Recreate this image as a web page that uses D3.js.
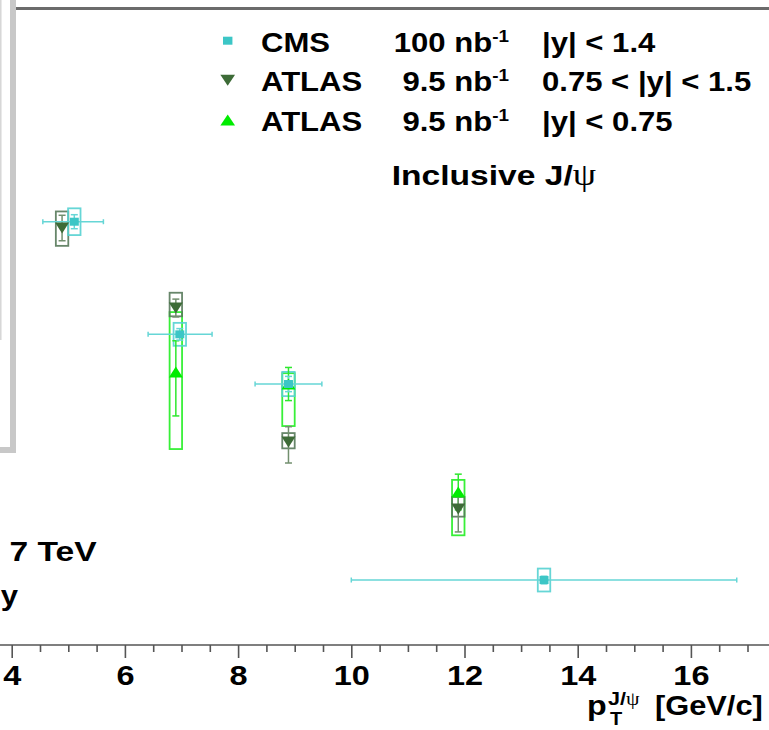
<!DOCTYPE html>
<html>
<head>
<meta charset="utf-8">
<script src="https://cdn.jsdelivr.net/npm/d3@7"></script>
<style>
  html, body { margin: 0; padding: 0; background: #fff; }
  svg { display: block; }
  text { font-family: "Liberation Sans", Arial, Helvetica, sans-serif; font-weight: bold; fill: #000; }
</style>
</head>
<body>
<svg id="chart" width="769" height="730"></svg>
<script>
// ---- data: inclusive J/psi, pT in GeV/c, values in plot units ----
const xTickValues = [4, 6, 8, 10, 12, 14, 16];

// CMS, 100 nb^-1, |y| < 1.4
const cmsPt     = [5.106, 6.97, 8.89, 13.405];
const cmsPtLo   = [4.55, 6.41, 8.30, 10.00];
const cmsPtHi   = [5.62, 7.54, 9.48, 16.81];
const cmsVal    = [6.645, 4.877, 4.097, 1.020];
const cmsStat   = [0.11, 0.09, 0.12, 0.06];
const cmsSys    = [0.21, 0.18, 0.19, 0.18];

// ATLAS, 9.5 nb^-1, 0.75 < |y| < 1.5
const atlasFwdPt     = [4.89, 6.90, 8.89, 11.89];
const atlasFwdVal    = [6.546, 5.290, 3.187, 2.135];
const atlasFwdStatUp = [0.20, 0.14, 0.24, 0.19];
const atlasFwdStatDn = [0.20, 0.14, 0.33, 0.36];
const atlasFwdSysUp  = [0.26, 0.24, 0.14, 0.19];
const atlasFwdSysDn  = [0.28, 0.13, 0.10, 0.12];

// ATLAS, 9.5 nb^-1, |y| < 0.75
const atlasCenPt     = [6.90, 8.89, 11.89];
const atlasCenVal    = [4.286, 4.097, 2.402];
const atlasCenStatUp = [0.49, 0.26, 0.28];
const atlasCenStatDn = [0.69, 0.26, 0.28];
const atlasCenSysUp  = [0.94, 0.17, 0.19];
const atlasCenSysDn  = [1.21, 0.66, 0.68];

// legend rows
const legendNames = ["CMS", "ATLAS", "ATLAS"];
const legendLumi  = ["100 nb", "9.5 nb", "9.5 nb"];
const legendRap   = ["|y| < 1.4", "0.75 < |y| < 1.5", "|y| < 0.75"];

// ---- layout ----
const W = 769, H = 730;
const axisY = 645;
const SX = 1.11;            // horizontal stretch of the lettering
const boxHalf = 0.11;       // half width of systematic boxes, GeV/c

const svg = d3.select("#chart");
const x = d3.scaleLinear().domain([4, 16]).range([11.7, 690.9]);
const y = d3.scaleLinear().domain([0, 10]).range([axisY, 8]);

const colors = {
  cms:  { marker: "#3cc6c6", line: "#66d6d6", box: "#55d2d2" },
  fwd:  { marker: "#3d6b37", line: "#728f6e", box: "#56795a" },
  cen:  { marker: "#00ec00", line: "#2ee82e", box: "#22ee22" }
};

function txt(parent, px, py, str, opts = {}) {
  const t = parent.append("text")
    .attr("transform", `translate(${px},${py}) scale(${opts.sx || SX},1)`)
    .attr("font-size", opts.size || 28)
    .attr("text-anchor", opts.anchor || "start");
  if (str !== null) t.text(str);
  return t;
}

// ---- frame pieces ----
svg.append("line").attr("x1", 16).attr("x2", W).attr("y1", 8.5).attr("y2", 8.5)
  .attr("stroke", "#6b6b6b").attr("stroke-width", 3);
svg.append("line").attr("x1", 0.8).attr("x2", 0.8).attr("y1", 0).attr("y2", 340)
  .attr("stroke", "#d6d6d6").attr("stroke-width", 1.5);
svg.append("rect").attr("x", 10).attr("y", 0).attr("width", 6).attr("height", 453).attr("fill", "#c8c8c8");
svg.append("rect").attr("x", 0).attr("y", 447).attr("width", 16).attr("height", 6).attr("fill", "#c8c8c8");

// ---- x axis ----
const axisG = svg.append("g").attr("transform", `translate(0,${axisY})`);
axisG.append("line").attr("x1", 0).attr("x2", W).attr("y1", 0).attr("y2", 0)
  .attr("stroke", "#555").attr("stroke-width", 1.6);

const visLo = x.invert(0), visHi = x.invert(W);
const minorVals = d3.range(3.5, 18, 0.5).filter(v => v >= visLo && v <= visHi && !xTickValues.includes(v));
const minorAxis = d3.axisBottom(x).tickValues(minorVals).tickSize(7).tickFormat("");
const gMinor = axisG.append("g").call(minorAxis);
gMinor.select(".domain").remove();
gMinor.selectAll(".tick line").attr("stroke", "#555").attr("stroke-width", 1.6);

const majorAxis = d3.axisBottom(x).tickValues(xTickValues).tickSize(13).tickFormat(d3.format("d"));
const gMajor = axisG.append("g").call(majorAxis);
gMajor.select(".domain").remove();
gMajor.selectAll(".tick line").attr("stroke", "#555").attr("stroke-width", 1.6);
gMajor.selectAll(".tick text")
  .attr("y", null).attr("dy", null)
  .attr("transform", `translate(0,40) scale(1.16,1)`)
  .attr("font-size", 28).attr("font-family", null).attr("fill", "#000");

// axis title  p_T^{J/psi} [GeV/c]
txt(svg, 587, 715, "p", { sx: 1.15 });
txt(svg, 610, 725, "T", { size: 18 });
const sup = txt(svg, 608, 705, null, { size: 18, sx: 1.2 });
sup.append("tspan").text("J/");
sup.append("tspan").attr("font-weight", "normal").attr("font-family", "Liberation Serif, DejaVu Serif, serif").text("ψ");
txt(svg, 655, 715, "[GeV/c]", { sx: 1.1 });

// ---- data layers ----
function makeSeries(pt, val, statUp, statDn, sysUp, sysDn, lo, hi) {
  return pt.map((p, i) => ({
    pt: p, val: val[i],
    sUp: statUp[i], sDn: statDn[i],
    yUp: sysUp[i], yDn: sysDn[i],
    lo: lo ? lo[i] : null, hi: hi ? hi[i] : null
  }));
}
const cms = makeSeries(cmsPt, cmsVal, cmsStat, cmsStat, cmsSys, cmsSys, cmsPtLo, cmsPtHi);
const fwd = makeSeries(atlasFwdPt, atlasFwdVal, atlasFwdStatUp, atlasFwdStatDn, atlasFwdSysUp, atlasFwdSysDn);
const cen = makeSeries(atlasCenPt, atlasCenVal, atlasCenStatUp, atlasCenStatDn, atlasCenSysUp, atlasCenSysDn);

const plot = svg.append("g");

function drawBoxes(data, c) {
  plot.append("g").selectAll("rect").data(data).join("rect")
    .attr("x", d => x(d.pt - boxHalf))
    .attr("width", d => x(d.pt + boxHalf) - x(d.pt - boxHalf))
    .attr("y", d => y(d.val + d.yUp))
    .attr("height", d => y(d.val - d.yDn) - y(d.val + d.yUp))
    .attr("fill", "none").attr("stroke", c.box).attr("stroke-width", 1.8).attr("stroke-opacity", 0.9);
}

function drawStat(data, c) {
  const g = plot.append("g").attr("stroke", c.line).attr("stroke-width", 1.5);
  data.forEach(d => {
    const cx = x(d.pt), t = y(d.val + d.sUp), b = y(d.val - d.sDn);
    g.append("line").attr("x1", cx).attr("x2", cx).attr("y1", t).attr("y2", b);
    g.append("line").attr("x1", cx - 3.5).attr("x2", cx + 3.5).attr("y1", t).attr("y2", t);
    g.append("line").attr("x1", cx - 3.5).attr("x2", cx + 3.5).attr("y1", b).attr("y2", b);
    if (d.lo !== null) {
      const cy = y(d.val), l = x(d.lo), r = x(d.hi);
      g.append("line").attr("x1", l).attr("x2", r).attr("y1", cy).attr("y2", cy);
      g.append("line").attr("x1", l).attr("x2", l).attr("y1", cy - 2.5).attr("y2", cy + 2.5);
      g.append("line").attr("x1", r).attr("x2", r).attr("y1", cy - 2.5).attr("y2", cy + 2.5);
    }
  });
}

const markerPath = {
  square: "M-4.5,-4 L4.5,-4 L4.5,4 L-4.5,4 Z",
  down:   "M-7,-5.5 L7,-5.5 L0,5.5 Z",
  up:     "M-7,5.5 L7,5.5 L0,-5.5 Z"
};

function drawMarkers(data, c, shape) {
  plot.append("g").selectAll("path").data(data).join("path")
    .attr("d", markerPath[shape])
    .attr("transform", d => `translate(${x(d.pt)},${y(d.val)})`)
    .attr("fill", c.marker);
}

drawBoxes(cen, colors.cen);
drawBoxes(fwd, colors.fwd);
drawBoxes(cms, colors.cms);
drawStat(cen, colors.cen);
drawStat(fwd, colors.fwd);
drawStat(cms, colors.cms);
drawMarkers(cen, colors.cen, "up");
drawMarkers(fwd, colors.fwd, "down");
drawMarkers(cms, colors.cms, "square");

// ---- legend ----
const legendRowsY = [51.7, 91.3, 131];
const legendShapes = ["square", "down", "up"];
const legendColors = [colors.cms, colors.fwd, colors.cen];
const leg = svg.append("g");
legendNames.forEach((name, i) => {
  const by = legendRowsY[i];
  leg.append("path").attr("d", markerPath[legendShapes[i]])
    .attr("transform", `translate(227.7,${by - 11}) scale(1.05,1)`)
    .attr("fill", legendColors[i].marker);
  txt(leg, 261, by, name);
  const lt = txt(leg, 509, by, null, { anchor: "end" });
  lt.append("tspan").text(legendLumi[i]);
  lt.append("tspan").attr("font-size", 17).attr("dy", -10).text("-1");
  txt(leg, 542, by, legendRap[i]);
});

const inc = txt(svg, 391.7, 185, null, { sx: 1.2 });
inc.append("tspan").text("Inclusive J/");
inc.append("tspan").attr("font-weight", "normal").attr("font-size", 31)
  .attr("font-family", "Liberation Serif, DejaVu Serif, serif").text("ψ");

// lower-left annotations
txt(svg, 96.7, 561, "7 TeV", { anchor: "end", sx: 1.2 });
txt(svg, 18, 605, "y", { anchor: "end" });
</script>
</body>
</html>
